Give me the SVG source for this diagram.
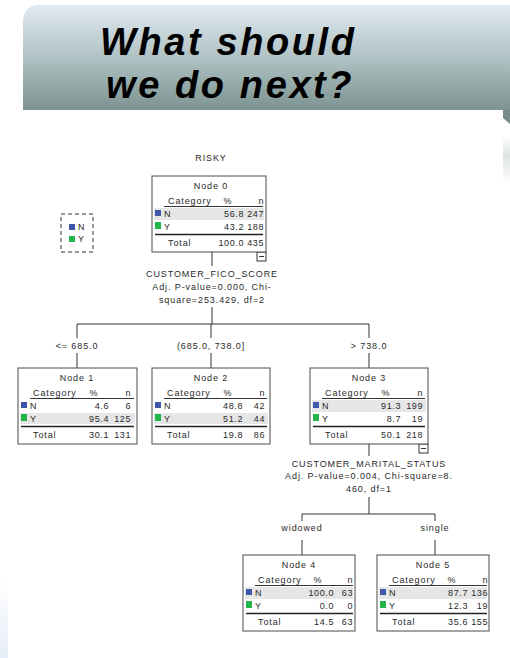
<svg xmlns="http://www.w3.org/2000/svg" width="510" height="658" viewBox="0 0 510 658">
<defs>
<linearGradient id="hdr" x1="0" y1="0" x2="0" y2="1">
<stop offset="0" stop-color="#e1eaf1"/>
<stop offset="0.5" stop-color="#b0c2c4"/>
<stop offset="1" stop-color="#7c9491"/>
</linearGradient>
<linearGradient id="shd" x1="0" y1="0" x2="0" y2="1">
<stop offset="0" stop-color="#ffffff"/>
<stop offset="0.4" stop-color="#dfe3e3"/>
<stop offset="1" stop-color="#ffffff"/>
</linearGradient>
<linearGradient id="blu" x1="0" y1="0" x2="0" y2="1">
<stop offset="0" stop-color="#ffffff"/>
<stop offset="1" stop-color="#e6edf8"/>
</linearGradient>
<g id="minus"><rect x="0" y="0" width="9" height="9" fill="#fff" stroke="#333" stroke-width="1"/><line x1="2" y1="4.5" x2="7" y2="4.5" stroke="#333" stroke-width="1"/></g>
</defs>
<style>
.t{font-family:"Liberation Sans",Arial,sans-serif;font-size:9px;letter-spacing:0.9px;fill:#2a2a2a}
.m{text-anchor:middle}
.e{text-anchor:end;letter-spacing:0.6px}
.box{fill:#fff;stroke:#4a4a4a;stroke-width:1}
.band{fill:#e6e6e6}
.ul{stroke:#333;stroke-width:1}
.dl{stroke:#222;stroke-width:1.6}
.cn{stroke:#333;stroke-width:1;fill:none}
.sqN{fill:#3f57a8}
.sqY{fill:#23b54a}
.title{font-family:"Liberation Sans",Arial,sans-serif;font-size:38px;letter-spacing:2.6px;font-weight:bold;font-style:italic;fill:#000}
</style>

<rect x="0" y="580" width="8" height="78" fill="url(#blu)"/>

<g id="header">
<path d="M23,110 V22 Q23,5 40,5 H510 V110 Z" fill="url(#hdr)"/>
<path d="M503,110 H510 V124 L503,118 Z" fill="#778c8a"/>
<rect x="503" y="135" width="7" height="50" fill="url(#shd)"/>
<text class="title" x="100" y="55">What should</text>
<text class="title" x="106" y="98">we do next?</text>
</g>

<text class="t m" x="211" y="161">RISKY</text>

<g id="legend">
<rect x="61" y="214" width="32" height="38" fill="none" stroke="#333" stroke-width="1" stroke-dasharray="4,3"/>
<rect class="sqN" x="69" y="224" width="6" height="6"/>
<text class="t" x="78" y="230">N</text>
<rect class="sqY" x="69" y="236" width="6" height="6"/>
<text class="t" x="78" y="242">Y</text>
</g>

<g id="connectors">
<line class="cn" x1="212" y1="252" x2="212" y2="266"/>
<line class="cn" x1="212" y1="307" x2="212" y2="324"/>
<line class="cn" x1="77" y1="324" x2="369" y2="324"/>
<line class="cn" x1="77" y1="324" x2="77" y2="338"/>
<line class="cn" x1="211" y1="324" x2="211" y2="338"/>
<line class="cn" x1="369" y1="324" x2="369" y2="338"/>
<line class="cn" x1="77" y1="353" x2="77" y2="368"/>
<line class="cn" x1="211" y1="353" x2="211" y2="368"/>
<line class="cn" x1="369" y1="353" x2="369" y2="368"/>
<line class="cn" x1="369" y1="444" x2="369" y2="456"/>
<line class="cn" x1="369" y1="497" x2="369" y2="514"/>
<line class="cn" x1="302" y1="514" x2="435" y2="514"/>
<line class="cn" x1="302" y1="514" x2="302" y2="521"/>
<line class="cn" x1="435" y1="514" x2="435" y2="521"/>
<line class="cn" x1="302" y1="540" x2="302" y2="555"/>
<line class="cn" x1="435" y1="540" x2="435" y2="555"/>
<use href="#minus" x="257" y="252"/>
<use href="#minus" x="419" y="444"/>
<text class="t m" x="212" y="277">CUSTOMER_FICO_SCORE</text>
<text class="t m" x="212" y="290">Adj. P-value=0.000, Chi-</text>
<text class="t m" x="212" y="303">square=253.429, df=2</text>
<text class="t m" x="77" y="349">&lt;= 685.0</text>
<text class="t m" x="211" y="349">(685.0, 738.0]</text>
<text class="t m" x="369" y="349">&gt; 738.0</text>
<text class="t m" x="369" y="467">CUSTOMER_MARITAL_STATUS</text>
<text class="t m" x="369" y="479">Adj. P-value=0.004, Chi-square=8.</text>
<text class="t m" x="369" y="492">460, df=1</text>
<text class="t m" x="302" y="531">widowed</text>
<text class="t m" x="435" y="531">single</text>
</g>

<g id="node0" transform="translate(152,176)">
<rect class="box" x="0" y="0" width="114" height="76"/>
<text class="t m" x="59" y="13">Node 0</text>
<text class="t" x="16" y="28">Category</text><text class="t e" x="80" y="28">%</text><text class="t e" x="112" y="28">n</text>
<line class="ul" x1="12" y1="30.5" x2="111" y2="30.5"/>
<rect class="band" x="2" y="32" width="110" height="12"/>
<rect class="sqN" x="3" y="34" width="6" height="6"/><text class="t" x="12" y="41">N</text>
<text class="t e" x="92" y="41">56.8</text><text class="t e" x="112" y="41">247</text>
<rect class="sqY" x="3" y="46" width="6" height="7"/><text class="t" x="12" y="54">Y</text>
<text class="t e" x="92" y="54">43.2</text><text class="t e" x="112" y="54">188</text>
<line class="dl" x1="3" y1="58.5" x2="111" y2="58.5"/>
<text class="t" x="16" y="70">Total</text><text class="t e" x="92" y="70">100.0</text><text class="t e" x="112" y="70">435</text>
</g>

<g id="node1" transform="translate(18,368)">
<rect class="box" x="0" y="0" width="119" height="76"/>
<text class="t m" x="59" y="13">Node 1</text>
<text class="t" x="15" y="28">Category</text><text class="t e" x="80" y="28">%</text><text class="t e" x="113" y="28">n</text>
<line class="ul" x1="12" y1="30.5" x2="116" y2="30.5"/>
<rect class="sqN" x="3" y="34" width="6" height="6"/><text class="t" x="12" y="41">N</text>
<text class="t e" x="91" y="41">4.6</text><text class="t e" x="113" y="41">6</text>
<rect class="band" x="2" y="45" width="115" height="11"/>
<rect class="sqY" x="3" y="46" width="6" height="7"/><text class="t" x="12" y="54">Y</text>
<text class="t e" x="91" y="54">95.4</text><text class="t e" x="113" y="54">125</text>
<line class="dl" x1="3" y1="58.5" x2="116" y2="58.5"/>
<text class="t" x="15" y="70">Total</text><text class="t e" x="91" y="70">30.1</text><text class="t e" x="113" y="70">131</text>
</g>

<g id="node2" transform="translate(152,368)">
<rect class="box" x="0" y="0" width="118" height="76"/>
<text class="t m" x="59" y="13">Node 2</text>
<text class="t" x="15" y="28">Category</text><text class="t e" x="80" y="28">%</text><text class="t e" x="113" y="28">n</text>
<line class="ul" x1="12" y1="30.5" x2="115" y2="30.5"/>
<rect class="sqN" x="3" y="34" width="6" height="6"/><text class="t" x="12" y="41">N</text>
<text class="t e" x="91" y="41">48.8</text><text class="t e" x="113" y="41">42</text>
<rect class="band" x="2" y="45" width="114" height="11"/>
<rect class="sqY" x="3" y="46" width="6" height="7"/><text class="t" x="12" y="54">Y</text>
<text class="t e" x="91" y="54">51.2</text><text class="t e" x="113" y="54">44</text>
<line class="dl" x1="3" y1="58.5" x2="115" y2="58.5"/>
<text class="t" x="15" y="70">Total</text><text class="t e" x="91" y="70">19.8</text><text class="t e" x="113" y="70">86</text>
</g>

<g id="node3" transform="translate(310,368)">
<rect class="box" x="0" y="0" width="118" height="76"/>
<text class="t m" x="59" y="13">Node 3</text>
<text class="t" x="15" y="28">Category</text><text class="t e" x="80" y="28">%</text><text class="t e" x="113" y="28">n</text>
<line class="ul" x1="12" y1="30.5" x2="115" y2="30.5"/>
<rect class="band" x="2" y="32" width="114" height="12"/>
<rect class="sqN" x="3" y="34" width="6" height="6"/><text class="t" x="12" y="41">N</text>
<text class="t e" x="91" y="41">91.3</text><text class="t e" x="113" y="41">199</text>
<rect class="sqY" x="3" y="46" width="6" height="7"/><text class="t" x="12" y="54">Y</text>
<text class="t e" x="91" y="54">8.7</text><text class="t e" x="113" y="54">19</text>
<line class="dl" x1="3" y1="58.5" x2="115" y2="58.5"/>
<text class="t" x="15" y="70">Total</text><text class="t e" x="91" y="70">50.1</text><text class="t e" x="113" y="70">218</text>
</g>

<g id="node4" transform="translate(243,555)">
<rect class="box" x="0" y="0" width="112" height="76"/>
<text class="t m" x="56" y="13">Node 4</text>
<text class="t" x="15" y="28">Category</text><text class="t e" x="79" y="28">%</text><text class="t e" x="110" y="28">n</text>
<line class="ul" x1="12" y1="30.5" x2="110" y2="30.5"/>
<rect class="band" x="2" y="32" width="108" height="12"/>
<rect class="sqN" x="3" y="34" width="6" height="6"/><text class="t" x="12" y="41">N</text>
<text class="t e" x="91" y="41">100.0</text><text class="t e" x="110" y="41">63</text>
<rect class="sqY" x="3" y="46" width="6" height="7"/><text class="t" x="12" y="54">Y</text>
<text class="t e" x="91" y="54">0.0</text><text class="t e" x="110" y="54">0</text>
<line class="dl" x1="3" y1="58.5" x2="110" y2="58.5"/>
<text class="t" x="15" y="70">Total</text><text class="t e" x="91" y="70">14.5</text><text class="t e" x="110" y="70">63</text>
</g>

<g id="node5" transform="translate(377,555)">
<rect class="box" x="0" y="0" width="112" height="76"/>
<text class="t m" x="56" y="13">Node 5</text>
<text class="t" x="15" y="28">Category</text><text class="t e" x="79" y="28">%</text><text class="t e" x="111" y="28">n</text>
<line class="ul" x1="12" y1="30.5" x2="110" y2="30.5"/>
<rect class="band" x="2" y="32" width="108" height="12"/>
<rect class="sqN" x="3" y="34" width="6" height="6"/><text class="t" x="12" y="41">N</text>
<text class="t e" x="91" y="41">87.7</text><text class="t e" x="111" y="41">136</text>
<rect class="sqY" x="3" y="46" width="6" height="7"/><text class="t" x="12" y="54">Y</text>
<text class="t e" x="91" y="54">12.3</text><text class="t e" x="111" y="54">19</text>
<line class="dl" x1="3" y1="58.5" x2="110" y2="58.5"/>
<text class="t" x="15" y="70">Total</text><text class="t e" x="91" y="70">35.6</text><text class="t e" x="111" y="70">155</text>
</g>
</svg>
